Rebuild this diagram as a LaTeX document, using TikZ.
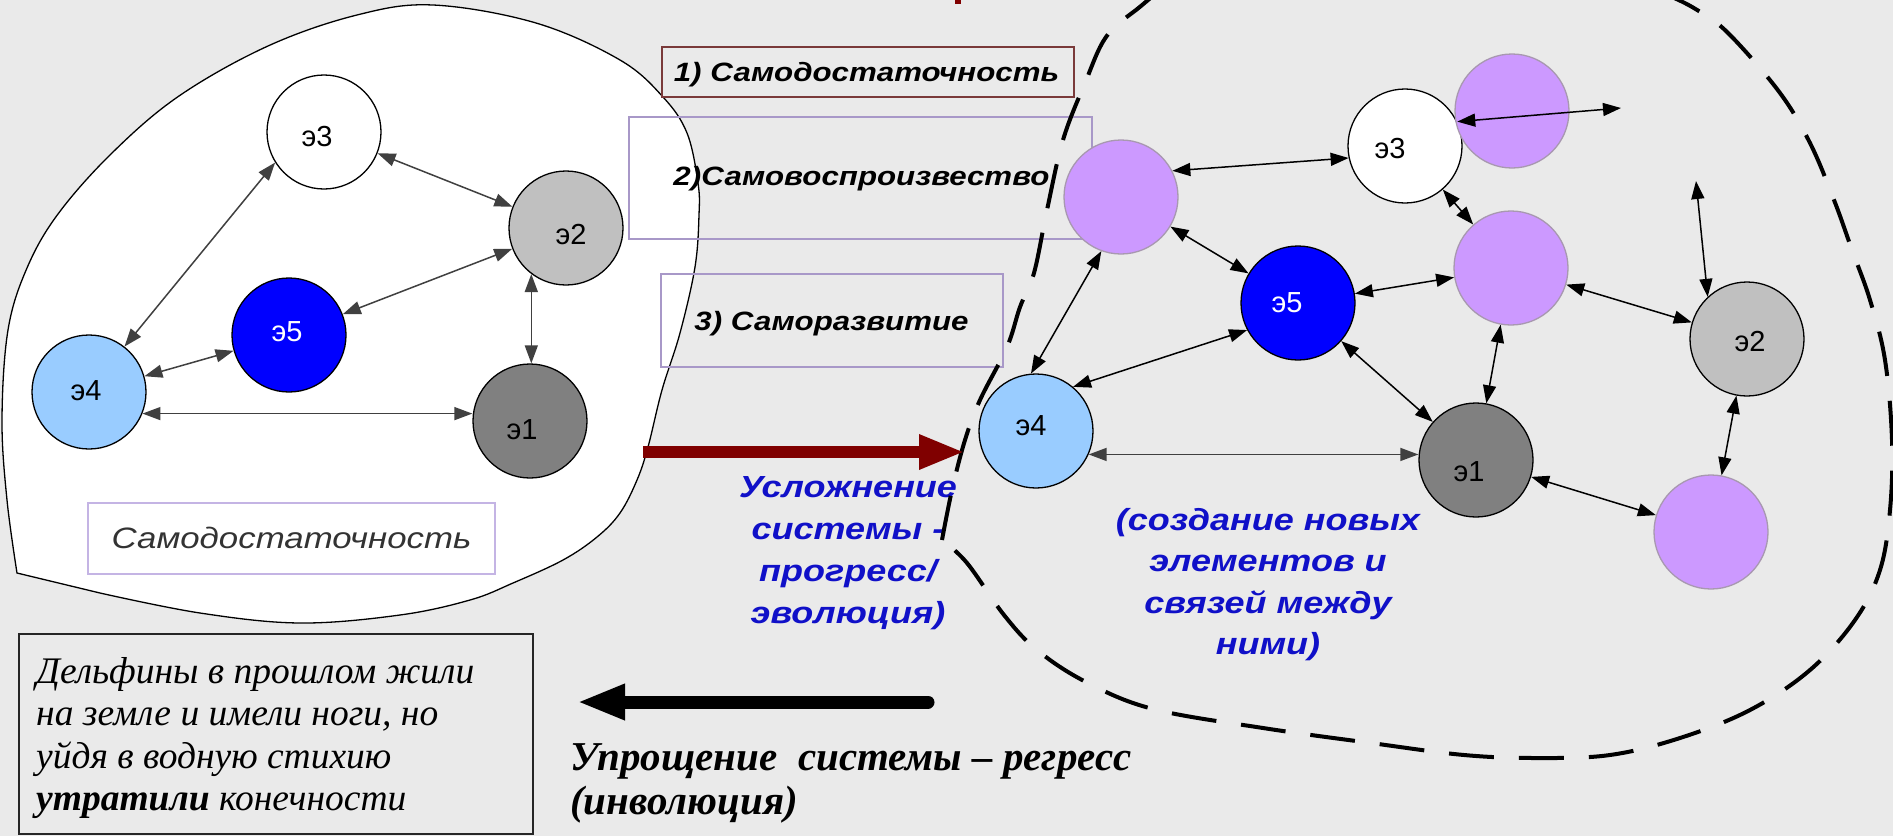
\documentclass[tikz,border=0pt]{standalone}
\usepackage{fontspec}
\setmainfont{Liberation Serif}
\newfontfamily\sansw[FakeStretch=1.18]{Liberation Sans}
\newfontfamily\sansn{Liberation Sans}
\usetikzlibrary{arrows.meta}
\definecolor{bg}{HTML}{EAEAEA}
\definecolor{purp}{HTML}{CC99FF}
\definecolor{puredge}{HTML}{A898B0}
\definecolor{lblue}{HTML}{99CCFF}
\definecolor{eblue}{HTML}{0000FF}
\definecolor{g2}{HTML}{C0C0C0}
\definecolor{g1}{HTML}{808080}
\definecolor{darr}{HTML}{404040}
\definecolor{redarr}{HTML}{800000}
\definecolor{tblue}{HTML}{1010C8}
\definecolor{brbox}{HTML}{7A3A3A}
\definecolor{lavbox}{HTML}{A898C8}
\definecolor{lavbox2}{HTML}{C4B4E4}
\definecolor{dgtext}{HTML}{333333}
\begin{document}
\begin{tikzpicture}[x=1pt,y=-1pt,
  el/.style={circle, draw=black, line width=1.3pt, minimum size=114pt, inner sep=0pt},
  pu/.style={circle, draw=puredge, fill=purp, line width=1.3pt, minimum size=114pt, inner sep=0pt},
  lbl/.style={font=\sansn\fontsize{29pt}{32pt}\selectfont, inner sep=0pt},
  larr/.style={draw=darr, fill=darr, line width=1.5pt, {Triangle[length=18pt,width=13pt]}-{Triangle[length=18pt,width=13pt]}},
  rarr/.style={draw=black, fill=black, line width=1.5pt, {Triangle[length=18pt,width=13pt]}-{Triangle[length=18pt,width=13pt]}},
  boxtxt/.style={font=\sansw\bfseries\itshape\fontsize{26.5pt}{30pt}\selectfont, inner sep=0pt, anchor=base},
  bluetxt/.style={font=\sansw\bfseries\itshape\fontsize{30.5pt}{34pt}\selectfont, text=tblue, inner sep=0pt, anchor=base},
  sertxt/.style={font=\itshape\fontsize{37.5pt}{40pt}\selectfont, inner sep=0pt, anchor=base west},
  regtxt/.style={font=\bfseries\itshape\fontsize{41pt}{44pt}\selectfont, inner sep=0pt, anchor=base west},
]
\useasboundingbox (0,0) rectangle (1893,836);
\clip (0,0) rectangle (1893,836);
\fill[bg] (0,0) rectangle (1893,836);
% small red fragment of a cut-off title
\fill[redarr] (955,0) rectangle (961,4);

% left white region
\draw[fill=white, line width=1.3pt] plot[smooth, tension=0.6] coordinates {
 (17,573) (7,500) (2,420) (8,330) (27,268) (58,214) (112,153) (179,96) (268,46) (357,15) (433,5)
 (536,23) (620,60) (663,97) (687,133) (698,183) (699,215) (695,267) (680,333) (662,390) (648,447)
 (637,480) (620,513) (597,537) (563,560) (513,583) (470,600) (400,615) (300,623) (200,613) (100,593)} -- cycle;

% boxes
\node[draw=brbox, line width=2pt, minimum width=412pt, minimum height=50pt, inner sep=0pt] (box1) at (868,72) {};
\node[draw=lavbox, line width=1.8pt, minimum width=463pt, minimum height=122pt, inner sep=0pt] (box2) at (860.5,178) {};
\node[draw=lavbox, line width=1.8pt, minimum width=342pt, minimum height=93pt, inner sep=0pt] (box3) at (832,320.5) {};
\node[draw=lavbox2, fill=white, line width=1.5pt, minimum width=407pt, minimum height=71pt, inner sep=0pt] (boxL) at (291.5,538.5) {};
\node[draw=black!85, line width=2pt, minimum width=514pt, minimum height=200pt, inner sep=0pt] (boxD) at (276,734) {};

% box texts
\node[boxtxt] (t1) at (866.5,81) {1) Самодостаточность};
\node[boxtxt] (t2) at (861.5,185) {2)Самовоспроизвество};
\node[boxtxt] (t3) at (831.5,330) {3) Саморазвитие};
\node[font=\sansw\itshape\fontsize{29.5pt}{33pt}\selectfont, text=dgtext, inner sep=0pt, anchor=base] (tL) at (291.5,548) {Самодостаточность};

% blue texts
\node[bluetxt] (u1) at (848,497) {Усложнение};
\node[bluetxt] (u2) at (848,539) {системы -};
\node[bluetxt] (u3) at (848,581) {прогресс/};
\node[bluetxt] (u4) at (848,623) {эволюция)};
\node[bluetxt] (s1) at (1268,530) {(создание новых};
\node[bluetxt] (s2) at (1268,571) {элементов и};
\node[bluetxt] (s3) at (1268,613) {связей между};
\node[bluetxt] (s4) at (1268,654) {ними)};

% serif texts
\node[sertxt] (d1) at (36,683) {Дельфины в прошлом жили};
\node[sertxt] (d2) at (36,725) {на земле и имели ноги, но};
\node[sertxt] (d3) at (36,768) {уйдя в водную стихию};
\node[sertxt] (d4) at (36,810) {\textbf{утратили} конечности};
\node[regtxt] (r1) at (570,770) {Упрощение\ \ системы – регресс};
\node[regtxt] (r2) at (570,814) {(инволюция)};

% dashed right region
\draw[line width=4pt, dash pattern=on 45pt off 25pt] plot[smooth, tension=0.6] coordinates {
 (942,540) (952,490) (965,440) (980,400) (1007,347) (1020,307) (1034,273) (1047,210) (1063,140)
 (1085,83) (1106,37) (1136,10) (1180,-20) (1280,-55) (1420,-65) (1560,-45) (1660,-8) (1702,13)
 (1732,37) (1780,93) (1810,143) (1834,200) (1852,250) (1870,300) (1885,360) (1892,440) (1890,510)
 (1880,570) (1855,620) (1810,670) (1750,710) (1680,738) (1610,755) (1537,758) (1464,755) (1371,743)
 (1263,728) (1153,709) (1086,682) (1037,650) (1004,615) (967,563) (942,540)};

% big arrows
\coordinate (redS) at (643,452);
\coordinate (redE) at (965,452);
\draw[redarr, line width=12pt, -{Triangle[length=46pt,width=32pt]}] (redS) -- (redE);
\coordinate (blkS) at (928,702);
\coordinate (blkE) at (577,702);
\draw[black, line width=13pt, line cap=round, -{Triangle[length=48pt,width=33pt]}] (blkS) -- (blkE);

% left graph
\node[el, fill=white] (e3) at (324,132) {};
\node[el, fill=g2] (e2) at (566,228) {};
\node[el, fill=eblue] (e5) at (289,335) {};
\node[el, fill=lblue] (e4) at (89,392) {};
\node[el, fill=g1] (e1) at (530,421) {};
\node[lbl] (e3t) at (317,137) {э3};
\node[lbl] (e2t) at (571,235) {э2};
\node[lbl, text=white] (e5t) at (287,332) {э5};
\node[lbl] (e4t) at (86,391) {э4};
\node[lbl] (e1t) at (522,430) {э1};
\draw[larr] (e3) -- (e2);
\draw[larr] (e3.212) -- (e4.52);
\draw[larr] (e2) -- (e5);
\draw[larr] (e2.-127) -- (e2.-127 |- e1.north);
\draw[larr] (e4) -- (e5);
\draw[larr] (e4.-22) -- (e4.-22 -| e1.west);

% right graph
\node[pu] (p1) at (1121,197) {};
\node[el, fill=white] (e3r) at (1405,146) {};
\node[pu] (p2) at (1512,111) {};
\node[pu] (p3) at (1511,268) {};
\node[el, fill=eblue] (e5r) at (1298,303) {};
\node[el, fill=lblue] (e4r) at (1036,431) {};
\node[el, fill=g1] (e1r) at (1476,460) {};
\node[el, fill=g2] (e2r) at (1747,339) {};
\node[pu] (p4) at (1711,532) {};
\node[lbl] (e3rt) at (1390,149) {э3};
\node[lbl, text=white] (e5rt) at (1287,303) {э5};
\node[lbl] (e4rt) at (1031,426) {э4};
\node[lbl] (e1rt) at (1469,472) {э1};
\node[lbl] (e2rt) at (1750,342) {э2};
\coordinate (f1) at (1621,108);
\coordinate (f2) at (1696,181);
\draw[rarr] (p1.27) -- (e3r.192);
\draw[rarr] (p1) -- (e5r);
\draw[rarr] (p1.250) -- (e4r.95);
\draw[rarr] (e3r) -- (p3);
\draw[rarr] (e5r) -- (p3);
\draw[rarr] (e4r.50) -- (e5r.208);
\draw[rarr] (e5r) -- (e1r);
\draw[rarr] (p3) -- (e1r);
\draw[rarr] (p3) -- (e2r);
\draw[rarr] (f2) -- (e2r.133);
\draw[rarr] (e2r) -- (p4);
\draw[rarr] (e1r) -- (p4);
\draw[larr] (e4r.-24) -- (e4r.-24 -| e1r.west);
\draw[rarr] (e3r.25) -- (f1);
\end{tikzpicture}
\end{document}
